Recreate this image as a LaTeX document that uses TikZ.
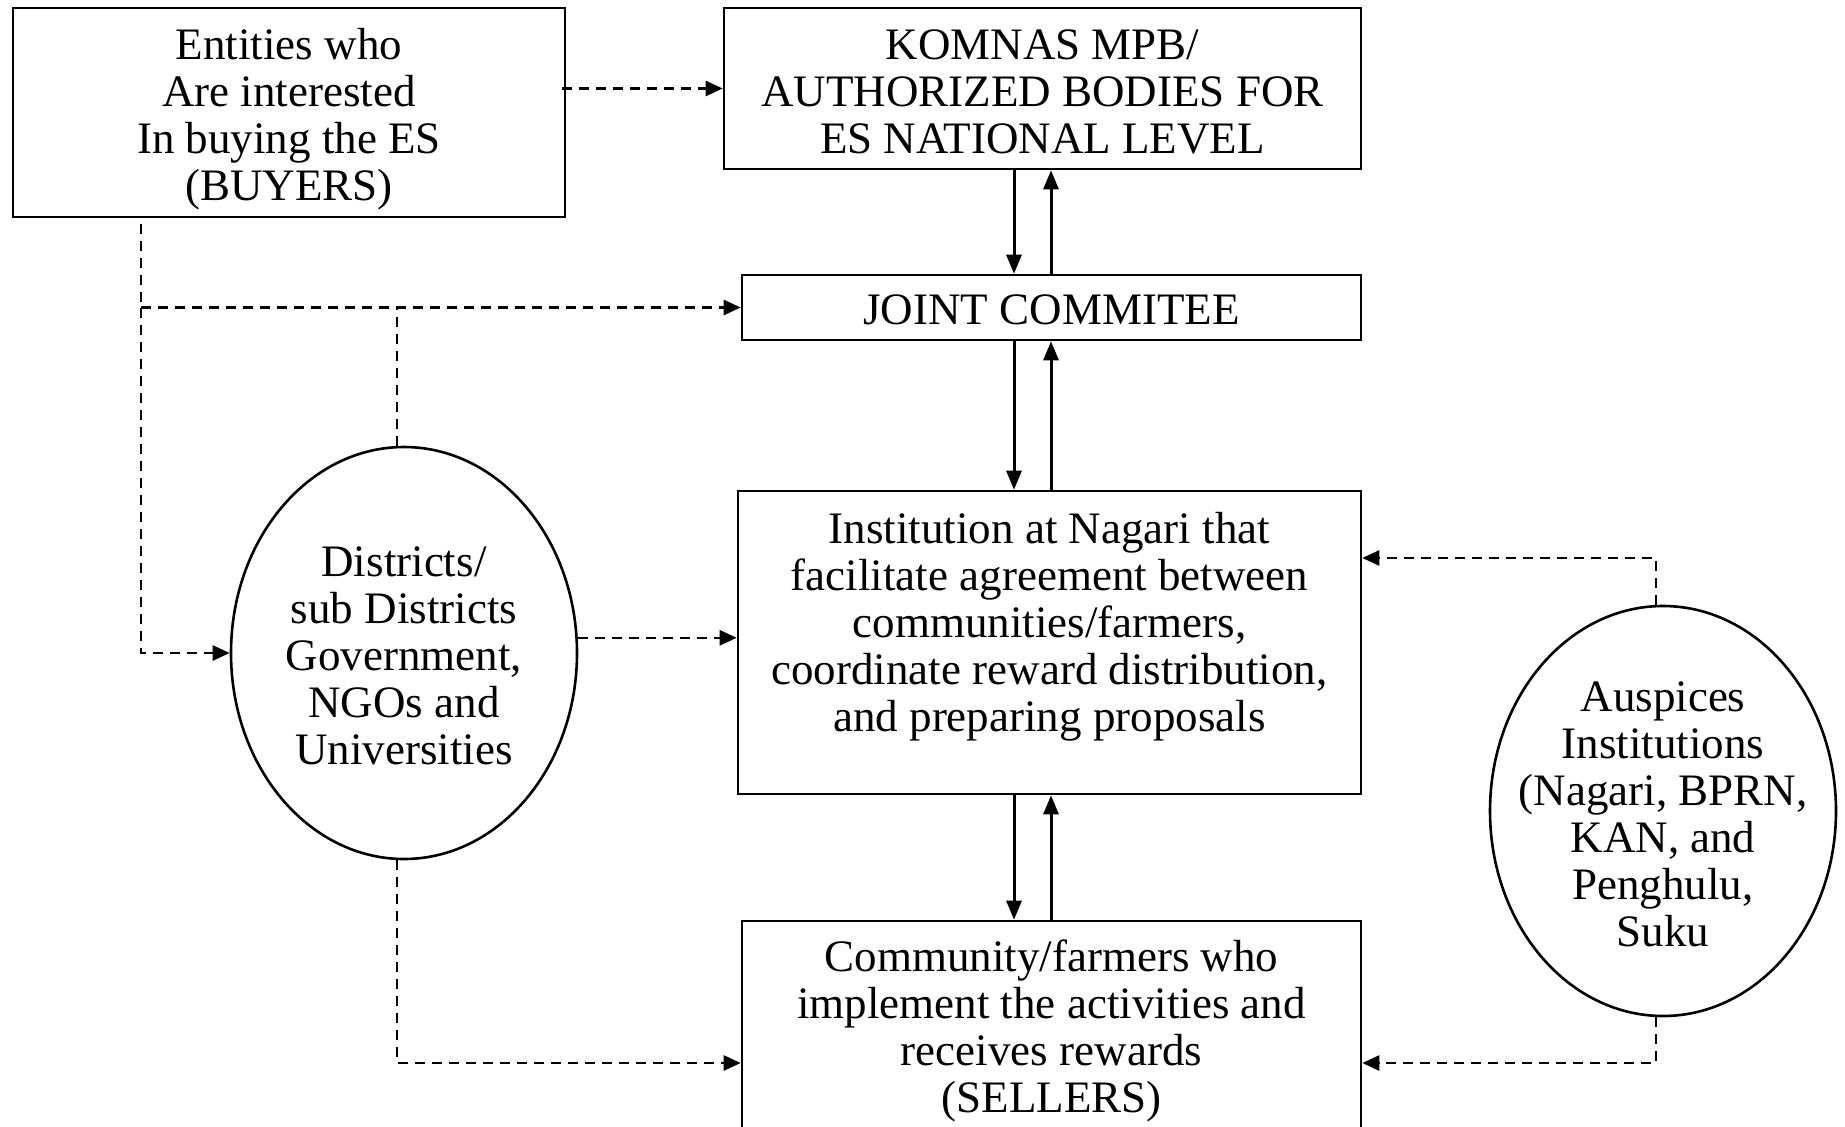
\documentclass[tikz,border=0pt]{standalone}
\usepackage{fontspec}
\setmainfont{Liberation Serif}
\usetikzlibrary{arrows.meta,shapes.geometric,calc}
\begin{document}
\begin{tikzpicture}[x=1pt,y=-1pt,
  box/.style={draw,line width=2.6pt,rectangle,inner sep=0pt},
  oval/.style={draw,line width=2.6pt,ellipse,inner sep=0pt},
  txt/.style={align=center,font=\fontsize{45}{47}\selectfont,inner sep=0pt},
  darr/.style={line width=2.6pt,dash pattern=on 10pt off 7pt,-{Triangle[length=17pt,width=15pt]}},
  dline/.style={line width=2.6pt,dash pattern=on 10pt off 7pt},
  sarr/.style={line width=3pt,-{Triangle[length=19pt,width=15pt]}}]
\useasboundingbox (0,0) rectangle (1845,1127);
\clip (0,0) rectangle (1845,1127);
\fill[white] (0,0) rectangle (1845,1127);

\node[box,minimum width=552pt,minimum height=209pt] (buyers) at (289,112.5) {};
\node[txt] (buyersT) at ([yshift=-7pt]buyers.center)
  {Entities who\\Are interested\\In buying the ES\\(BUYERS)};
\node[box,minimum width=637pt,minimum height=161pt] (komnas) at (1042.5,88.5) {};
\node[txt] (komnasT) at ([yshift=-3pt]komnas.center)
  {KOMNAS MPB/\\AUTHORIZED BODIES FOR\\ES NATIONAL LEVEL};
\node[box,minimum width=619pt,minimum height=65pt] (joint) at (1051.5,307.5) {};
\node[txt] (jointT) at ([yshift=-2pt]joint.center) {JOINT COMMITEE};
\node[box,minimum width=623pt,minimum height=303pt] (inst) at (1049.5,642.5) {};
\node[txt] (instT) at ([yshift=-3pt]inst.center)
  {Institution at Nagari that\\facilitate agreement between\\communities/farmers,\\coordinate reward distribution,\\and preparing proposals\\\mbox{}};
\node[box,minimum width=619pt,minimum height=213pt] (comm) at (1051.5,1027.5) {};
\node[txt] (commT) at ([yshift=-3pt]comm.center)
  {Community/farmers who\\implement the activities and\\receives rewards\\(SELLERS)};
\node[oval,minimum width=346pt,minimum height=412pt] (dist) at (404,653) {};
\node[txt] (distT) at ([yshift=-3pt]dist.center) {Districts/\\sub Districts\\Government,\\NGOs and\\Universities};
\node[oval,minimum width=346pt,minimum height=410pt] (ausp) at (1663,811) {};
\node[txt] (auspT) at ([yshift=-3pt]ausp.center) {Auspices\\Institutions\\(Nagari, BPRN,\\KAN, and\\Penghulu,\\Suku};

\coordinate (bx) at (141,0);
\coordinate (dx) at (397,0);
\coordinate (ax) at (1656,0);
\coordinate (low) at (0,1063);
\coordinate (atop) at (0,558);
\coordinate (dn) at (1014,0);
\coordinate (up) at (1051,0);

% dashed connectors
\draw[darr] ([xshift=-4pt]buyers.east |- komnas.west) -- (komnas.west);
\draw[dline] ([yshift=-6pt]bx |- buyers.south) -- (bx |- joint.west);
\draw[darr] (bx |- joint.west) -- (bx |- dist.west) -- (dist.west);
\draw[darr] (bx |- joint.west) -- (joint.west);
\draw[dline] (dx |- dist.north) -- (dx |- joint.west);
\draw[darr] (dist.5) -- (dist.5 -| inst.west);
\draw[darr] (dx |- dist.south) -- (dx |- low) -- (low -| comm.west);
\draw[darr] (ax |- ausp.north) -- (ax |- atop) -- (atop -| inst.east);
\draw[darr] (ax |- ausp.south) -- (ax |- low) -- (low -| comm.east);

% solid connectors
\draw[sarr] (dn |- komnas.south) -- (dn |- joint.north);
\draw[sarr] (up |- joint.north) -- (up |- komnas.south);
\draw[sarr] (dn |- joint.south) -- (dn |- inst.north);
\draw[sarr] (up |- inst.north) -- (up |- joint.south);
\draw[sarr] (dn |- inst.south) -- (dn |- comm.north);
\draw[sarr] (up |- comm.north) -- (up |- inst.south);
\end{tikzpicture}
\end{document}
